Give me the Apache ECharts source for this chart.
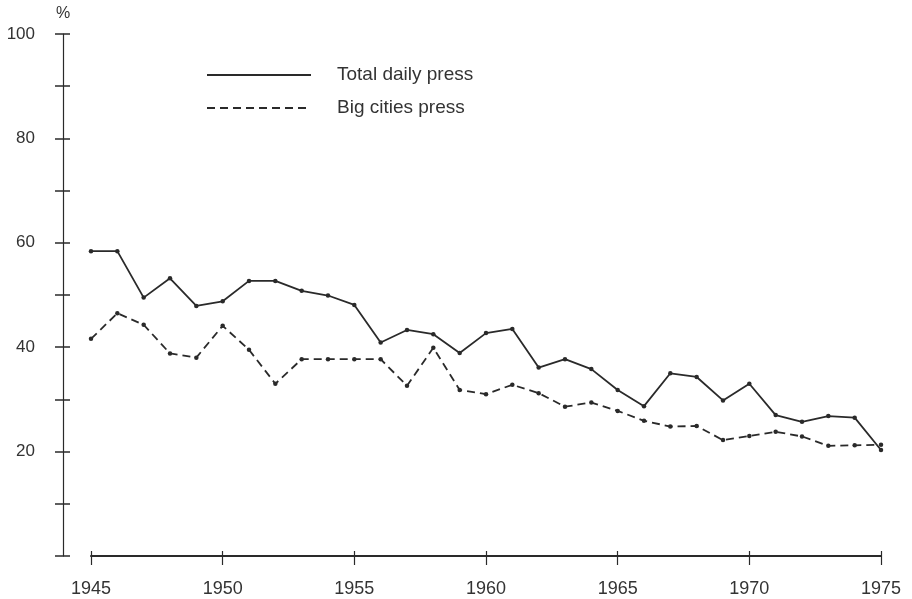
<!DOCTYPE html>
<html>
<head>
<meta charset="utf-8">
<script src="https://cdn.jsdelivr.net/npm/echarts@6/dist/echarts.min.js"></script>
<style>html,body{margin:0;padding:0;background:#fff;}#c{width:912px;height:599px;}</style>
</head>
<body>
<div id="c"></div>
<script>
const years = [1945,1946,1947,1948,1949,1950,1951,1952,1953,1954,1955,1956,1957,1958,1959,1960,1961,1962,1963,1964,1965,1966,1967,1968,1969,1970,1971,1972,1973,1974,1975];
const totalDaily = [58.4,58.4,49.5,53.2,47.9,48.8,52.7,52.7,50.8,49.9,48.1,40.9,43.3,42.5,38.9,42.7,43.5,36.1,37.7,35.8,31.8,28.7,35.0,34.3,29.8,33.0,27.0,25.7,26.8,26.5,20.3];
const bigCities = [41.6,46.5,44.3,38.8,38.0,44.1,39.5,33.0,37.7,37.7,37.7,37.7,32.6,39.9,31.8,31.0,32.8,31.2,28.6,29.4,27.8,25.9,24.8,24.9,22.2,23.0,23.8,22.9,21.1,21.2,21.3];
const yLabels = [20,40,60,80,100];
const seriesNames = ['Total daily press','Big cities press'];

const ink = '#2a2a2a';
const font = 'Liberation Sans, Arial, sans-serif';
const chart = echarts.init(document.getElementById('c'));
const pair = (v)=> years.map((y,i)=>[y,v[i]]);
chart.setOption({
  animation:false,
  backgroundColor:'#fff',
  grid:{left:91,right:31,top:34,bottom:43},
  xAxis:[{
    type:'value',min:1945,max:1975,interval:5,
    axisLine:{show:true,onZero:false,lineStyle:{color:ink,width:2}},
    axisTick:{show:true,inside:false,length:9,lineStyle:{color:ink,width:1.2}},
    axisLabel:{color:'#333',fontSize:18,fontFamily:font,margin:24,formatter:(v)=>String(v)},
    splitLine:{show:false}
  },{
    type:'value',min:1945,max:1975,interval:5,position:'bottom',
    axisLine:{show:false},
    axisTick:{show:true,inside:true,length:5,lineStyle:{color:ink,width:1.2}},
    axisLabel:{show:false},splitLine:{show:false}
  }],
  yAxis:[{
    type:'value',min:0,max:100,interval:10,offset:28,
    name:'%',nameLocation:'end',nameGap:12,
    nameTextStyle:{color:'#333',fontSize:16,fontFamily:font,align:'center'},
    axisLine:{show:true,lineStyle:{color:ink,width:1.2}},
    axisTick:{show:true,inside:false,length:8,lineStyle:{color:ink,width:1.5}},
    axisLabel:{color:'#333',fontSize:17,fontFamily:font,margin:28,
      formatter:(v)=> yLabels.indexOf(v)>=0 ? String(v) : ''},
    splitLine:{show:false}
  },{
    type:'value',min:0,max:100,interval:10,offset:28,position:'left',
    axisLine:{show:false},
    axisTick:{show:true,inside:true,length:7,lineStyle:{color:ink,width:1.5}},
    axisLabel:{show:false},splitLine:{show:false}
  }],
  graphic:[
    {type:'line',shape:{x1:207,y1:75,x2:311,y2:75},style:{stroke:ink,lineWidth:2}},
    {type:'text',x:337,y:75,style:{text:seriesNames[0],fill:'#333',font:'19px '+font,verticalAlign:'middle'}},
    {type:'line',shape:{x1:207,y1:108,x2:311,y2:108},style:{stroke:ink,lineWidth:2,lineDash:[8,5]}},
    {type:'text',x:337,y:108,style:{text:seriesNames[1],fill:'#333',font:'19px '+font,verticalAlign:'middle'}}
  ],
  series:[{
    name:seriesNames[0],type:'line',xAxisIndex:0,yAxisIndex:0,data:pair(totalDaily),
    symbol:'circle',symbolSize:4.5,
    lineStyle:{color:ink,width:1.8},itemStyle:{color:ink}
  },{
    name:seriesNames[1],type:'line',xAxisIndex:0,yAxisIndex:0,data:pair(bigCities),
    symbol:'circle',symbolSize:4.5,
    lineStyle:{color:ink,width:1.8,type:[8,5]},itemStyle:{color:ink}
  }]
});
</script>
</body>
</html>
